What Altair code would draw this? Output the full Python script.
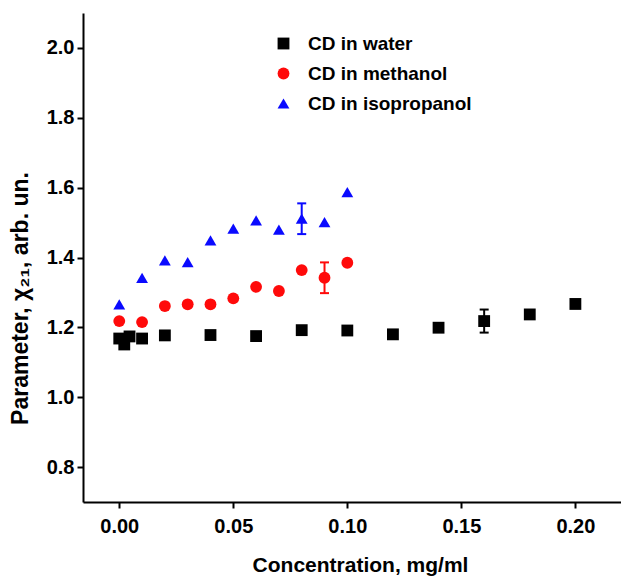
import altair as alt
import pandas as pd

# ---- data ----
series_names = ["CD in water", "CD in methanol", "CD in isopropanol"]

conc_water = [0.0, 0.0022, 0.0045, 0.01, 0.02, 0.04, 0.06, 0.08, 0.10, 0.12, 0.14, 0.16, 0.18, 0.20]
val_water = [1.168, 1.151, 1.174, 1.168, 1.177, 1.178, 1.175, 1.192, 1.191, 1.180, 1.199, 1.218, 1.237, 1.267]
err_water = [0, 0, 0, 0, 0, 0, 0, 0, 0, 0, 0, 0.033, 0, 0]

conc_meth = [0.0, 0.01, 0.02, 0.03, 0.04, 0.05, 0.06, 0.07, 0.08, 0.09, 0.10]
val_meth = [1.218, 1.215, 1.261, 1.266, 1.266, 1.283, 1.316, 1.304, 1.364, 1.342, 1.385]
err_meth = [0, 0, 0, 0, 0, 0, 0, 0, 0, 0.044, 0]

conc_iso = [0.0, 0.01, 0.02, 0.03, 0.04, 0.05, 0.06, 0.07, 0.08, 0.09, 0.10]
val_iso = [1.266, 1.342, 1.392, 1.387, 1.449, 1.483, 1.506, 1.480, 1.511, 1.501, 1.587]
err_iso = [0, 0, 0, 0, 0, 0, 0, 0, 0.044, 0, 0]

x_ticks = [0.0, 0.05, 0.10, 0.15, 0.20]
y_ticks = [0.8, 1.0, 1.2, 1.4, 1.6, 1.8, 2.0]

colors = ["#000000", "#ff0a0a", "#0a0aff"]
shapes = ["square", "circle", "triangle-up"]
marker_sizes = [140, 140, 175]

rows = []
for name, xs, ys, es in [
    (series_names[0], conc_water, val_water, err_water),
    (series_names[1], conc_meth, val_meth, err_meth),
    (series_names[2], conc_iso, val_iso, err_iso),
]:
    for x, y, e in zip(xs, ys, es):
        rows.append({"series": name, "conc": x, "val": y, "err": e,
                     "lo": y - e, "hi": y + e})
df = pd.DataFrame(rows)
df_err = df[df["err"] > 0]

FONT = "Liberation Sans, Arial, sans-serif"

xscale = alt.Scale(domain=[-0.0159, 0.22], nice=False, zero=False)
yscale = alt.Scale(domain=[0.7, 2.1], nice=False, zero=False)
cscale = alt.Scale(domain=series_names, range=colors)
sscale = alt.Scale(domain=series_names, range=shapes)
zscale = alt.Scale(domain=series_names, range=marker_sizes)

xaxis = alt.Axis(values=x_ticks, format=".2f", title="Concentration, mg/ml",
                 grid=False, tickSize=6, labelPadding=8,
                 titleX=277, titleY=52,
                 labelFontSize=20, titleFontSize=21)
yaxis = alt.Axis(values=y_ticks, format=".1f", title="Parameter, χ₂₁, arb. un.",
                 grid=False, tickSize=6, labelPadding=3, titleX=-51, titleY=285,
                 labelFontSize=20, titleFontSize=23)

legend = alt.Legend(
    orient="none", legendX=191, legendY=21,
    title=None, labelFontSize=19, labelFont=FONT, labelFontWeight="bold",
    labelColor="black", labelLimit=400,
    symbolSize=75, rowPadding=10, labelOffset=15,
    symbolStrokeWidth=0, symbolOpacity=1,
)

points = alt.Chart(df).mark_point(filled=True, opacity=1).encode(
    x=alt.X("conc:Q", scale=xscale, axis=xaxis),
    y=alt.Y("val:Q", scale=yscale, axis=yaxis),
    color=alt.Color("series:N", scale=cscale, legend=legend),
    shape=alt.Shape("series:N", scale=sscale),
    size=alt.Size("series:N", scale=zscale, legend=None),
)

layers = [points]
for name, col in zip(series_names, colors):
    sub = df_err[df_err["series"] == name]
    if len(sub) == 0:
        continue
    layers.append(alt.Chart(sub).mark_rule(strokeWidth=2, color=col).encode(
        x="conc:Q", y=alt.Y("lo:Q", scale=yscale), y2="hi:Q"))
    layers.append(alt.Chart(sub).mark_tick(orient="horizontal", size=9,
                                           thickness=2, color=col, opacity=1).encode(
        x="conc:Q", y=alt.Y("lo:Q", scale=yscale)))
    layers.append(alt.Chart(sub).mark_tick(orient="horizontal", size=9,
                                           thickness=2, color=col, opacity=1).encode(
        x="conc:Q", y=alt.Y("hi:Q", scale=yscale)))

chart = alt.layer(*layers).properties(
    width=538, height=489,
    autosize=alt.AutoSizeParams(type="none"),
    padding={"left": 75, "top": 5, "right": 0, "bottom": 74},
).configure_view(stroke=None).configure_axis(
    domainColor="black", domainWidth=2, tickColor="black", tickWidth=2,
    labelFont=FONT, titleFont=FONT, labelFontWeight="bold", titleFontWeight="bold",
    labelColor="black", titleColor="black",
).configure_point(opacity=1).configure_legend(symbolOpacity=1)

chart.save("out.html", embed_options={"renderer": "svg", "actions": False})
